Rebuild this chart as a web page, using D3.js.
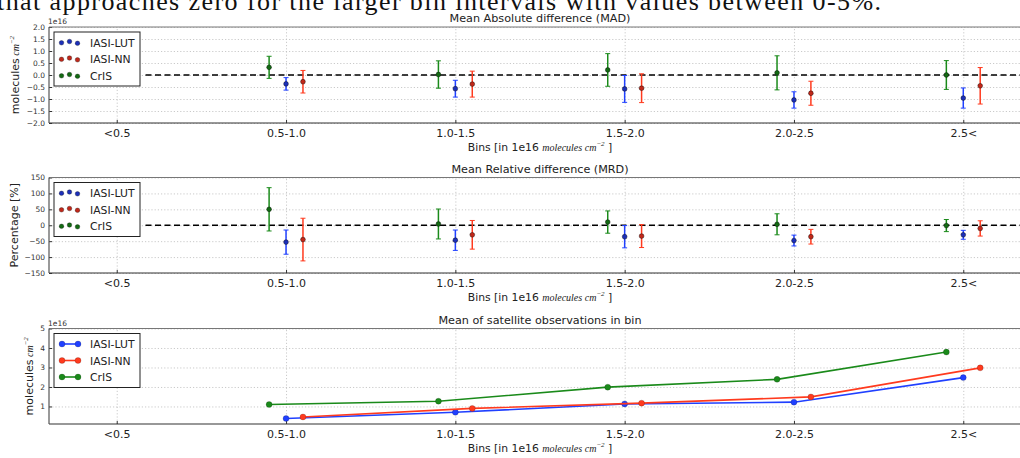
<!DOCTYPE html>
<html>
<head>
<meta charset="utf-8">
<script src="https://cdn.jsdelivr.net/npm/d3@7"></script>
<style>
  body { margin: 0; background: #fff; }
  svg { display: block; }
  text { font-family: 'DejaVu Sans', sans-serif; fill: #222; }
  .grid line { stroke: #bcbcbc; stroke-width: 0.8; stroke-dasharray: 1.2,2; }
  .grid path { display: none; }
  .yaxis path, .xaxis path { display: none; }
  .yaxis line, .xaxis line { stroke: #333; }
  .math { font-family: 'Liberation Serif', serif; font-style: italic; }
</style>
</head>
<body>
<svg id="chart" width="1020" height="458"></svg>
<script>
// bins on the x axis
const bins = ['<0.5', '0.5-1.0', '1.0-1.5', '1.5-2.0', '2.0-2.5', '2.5<']

const seriesNames = ['IASI-LUT', 'IASI-NN', 'CrIS']
const seriesColors = ['#2040ff', '#ff3a1e', '#1a8a1a']
const markerColors = ['#1c2fb8', '#c0281a', '#136913']
const seriesShift = [0, 0.1, -0.1]

// mean absolute difference, 1e16 molecules cm^-2
const madLut = [null, -0.37, -0.57, -0.58, -1.04, -0.96]
const madLutErr = [null, 0.26, 0.35, 0.56, 0.34, 0.42]
const madNn = [null, -0.28, -0.38, -0.55, -0.76, -0.45]
const madNnErr = [null, 0.47, 0.54, 0.6, 0.5, 0.76]
const madCris = [null, 0.32, 0.02, 0.21, 0.09, 0.0]
const madCrisErr = [null, 0.46, 0.57, 0.68, 0.71, 0.6]

// mean relative difference, %
const mrdLut = [null, -53, -47, -36, -48, -30]
const mrdLutErr = [null, 38, 32, 35, 17, 14]
const mrdNn = [null, -45, -30, -34, -36, -10]
const mrdNnErr = [null, 67, 45, 36, 23, 24]
const mrdCris = [null, 50, 4, 10, 3, -1]
const mrdCrisErr = [null, 68, 47, 35, 33, 19]

// mean of satellite observations, 1e16 molecules cm^-2
const obsLut = [null, 0.38, 0.70, 1.13, 1.22, 2.48]
const obsNn = [null, 0.46, 0.90, 1.17, 1.49, 2.98]
const obsCris = [null, 1.10, 1.27, 1.99, 2.39, 3.79]

const madTicks = [-2, -1.5, -1, -0.5, 0, 0.5, 1, 1.5, 2]
const mrdTicks = [-150, -100, -50, 0, 50, 100, 150]
const obsTicks = [1, 2, 3, 4, 5]

const svg = d3.select('#chart')
const x = d3.scaleLinear().domain([-0.4, 5.4]).range([49, 1031])
const minus = s => s.replace('-', '\u2212')

// cut-off line of body text above the figure
svg.append('text')
  .attr('x', -3).attr('y', 9.5)
  .attr('textLength', 884)
  .attr('lengthAdjust', 'spacing')
  .style('font-family', "'Liberation Serif', serif")
  .style('font-size', '26px')
  .style('fill', '#111')
  .text('that approaches zero for the larger bin intervals with values between 0-5%.')

function yLabel (g, cx, cy, plain, parts) {
  const t = g.append('text')
    .attr('transform', `translate(${cx},${cy}) rotate(-90)`)
    .attr('text-anchor', 'middle')
    .style('font-size', '11px')
  t.append('tspan').text(plain)
  if (parts) {
    t.append('tspan').attr('class', 'math').style('font-size', '10px').text(' cm')
    t.append('tspan').attr('class', 'math').style('font-size', '7px').attr('dy', -5).text('\u22122')
  }
}

function drawPanel (p) {
  const g = svg.append('g')
  const y = d3.scaleLinear().domain(p.domain).range([p.bottom, p.top])

  // grid
  g.append('g').attr('class', 'grid')
    .attr('transform', `translate(0,${p.bottom})`)
    .call(d3.axisBottom(x).tickValues(d3.range(bins.length)).tickSize(-(p.bottom - p.top)).tickFormat(''))
  g.append('g').attr('class', 'grid')
    .attr('transform', `translate(${x.range()[0]},0)`)
    .call(d3.axisLeft(y).tickValues(p.ticks).tickSize(-(x.range()[1] - x.range()[0])).tickFormat(''))

  // axes
  g.append('g').attr('class', 'yaxis')
    .attr('transform', `translate(${x.range()[0]},0)`)
    .call(d3.axisLeft(y).tickValues(p.ticks).tickSize(-3).tickPadding(4).tickFormat(p.fmt))
    .selectAll('text').style('font-size', '7.5px').style('fill', '#333')
  g.append('g').attr('class', 'xaxis')
    .attr('transform', `translate(0,${p.bottom})`)
    .call(d3.axisBottom(x).tickValues(d3.range(bins.length)).tickSize(-3).tickPadding(6).tickFormat(i => bins[i]))
    .selectAll('text').style('font-size', '11px').style('fill', '#222')

  // frame
  g.append('line').attr('x1', x.range()[0]).attr('x2', 1020).attr('y1', p.top).attr('y2', p.top)
    .attr('stroke', '#777').attr('stroke-width', 1)
  g.append('line').attr('x1', x.range()[0]).attr('x2', 1020).attr('y1', p.bottom).attr('y2', p.bottom)
    .attr('stroke', '#333').attr('stroke-width', 1.2)
  g.append('line').attr('x1', x.range()[0]).attr('x2', x.range()[0]).attr('y1', p.top).attr('y2', p.bottom)
    .attr('stroke', '#555').attr('stroke-width', 1.2)

  // titles and labels
  g.append('text').attr('x', x(2.5)).attr('y', p.top - 5)
    .attr('text-anchor', 'middle').style('font-size', '11.2px').text(p.title)
  const xl = g.append('text').attr('x', x(2.5)).attr('y', p.bottom + 28)
    .attr('text-anchor', 'middle').style('font-size', '10.8px')
  xl.append('tspan').text('Bins [in 1e16 ')
  xl.append('tspan').attr('class', 'math').style('font-size', '10px').text('molecules cm')
  xl.append('tspan').attr('class', 'math').style('font-size', '7px').attr('dy', -5).text('\u22122')
  xl.append('tspan').attr('dy', 5).text(' ]')
  yLabel(g, p.ylabelX, (p.top + p.bottom) / 2, p.ylabel, p.units)
  if (p.offset) {
    g.append('text').attr('x', 48).attr('y', p.top - 3)
      .style('font-size', '7.5px').style('fill', '#333').text('1e16')
  }

  const plot = g.append('g')
  if (p.zero) {
    plot.append('line')
      .attr('x1', x(0.17)).attr('x2', 1020)
      .attr('y1', y(0)).attr('y2', y(0))
      .attr('stroke', '#000').attr('stroke-width', 1.6).attr('stroke-dasharray', '6,3.5')
  }

  p.series.forEach((s, k) => {
    const pts = s.values.map((v, i) => ({ i: i + seriesShift[k], v, e: s.err ? s.err[i] : 0 }))
      .filter(d => d.v !== null)
    const sg = plot.append('g')
    if (p.lines) {
      sg.append('path').datum(pts)
        .attr('fill', 'none').attr('stroke', seriesColors[k]).attr('stroke-width', 1.6)
        .attr('d', d3.line().x(d => x(d.i)).y(d => y(d.v)))
      sg.selectAll('circle').data(pts).join('circle')
        .attr('cx', d => x(d.i)).attr('cy', d => y(d.v)).attr('r', 3)
        .attr('fill', seriesColors[k]).attr('stroke', 'rgba(0,0,0,0.35)').attr('stroke-width', 0.5)
    } else {
      sg.selectAll('line.bar').data(pts).join('line').attr('class', 'bar')
        .attr('x1', d => x(d.i)).attr('x2', d => x(d.i))
        .attr('y1', d => y(d.v - d.e)).attr('y2', d => y(d.v + d.e))
        .attr('stroke', seriesColors[k]).attr('stroke-width', 1.5)
      ;[-1, 1].forEach(sign => {
        sg.selectAll(`line.cap${sign}`).data(pts).join('line').attr('class', `cap${sign}`)
          .attr('x1', d => x(d.i) - 2.5).attr('x2', d => x(d.i) + 2.5)
          .attr('y1', d => y(d.v + sign * d.e)).attr('y2', d => y(d.v + sign * d.e))
          .attr('stroke', seriesColors[k]).attr('stroke-width', 1)
      })
      sg.selectAll('circle').data(pts).join('circle')
        .attr('cx', d => x(d.i)).attr('cy', d => y(d.v)).attr('r', 2.4)
        .attr('fill', markerColors[k]).attr('stroke', '#000').attr('stroke-width', 0.4)
    }
  })

  // legend
  const lg = g.append('g').attr('transform', `translate(54,${p.top + 5})`)
  lg.append('rect').attr('width', 86).attr('height', 54)
    .attr('fill', '#fff').attr('stroke', '#222').attr('stroke-width', 1)
  seriesNames.forEach((name, k) => {
    const ry = 10.5 + k * 16.5
    if (p.lines) {
      lg.append('line').attr('x1', 8).attr('x2', 24).attr('y1', ry).attr('y2', ry)
        .attr('stroke', seriesColors[k]).attr('stroke-width', 1.6)
      ;[8, 24].forEach(cx => lg.append('circle').attr('cx', cx).attr('cy', ry).attr('r', 3)
        .attr('fill', seriesColors[k]).attr('stroke', 'rgba(0,0,0,0.35)').attr('stroke-width', 0.5))
    } else {
      ;[[7.5, 0.3], [15.5, -1], [23.5, 0.8]].forEach(([cx, dy]) => lg.append('circle')
        .attr('cx', cx).attr('cy', ry + dy).attr('r', 2.3)
        .attr('fill', markerColors[k]).attr('stroke', '#000').attr('stroke-width', 0.3))
    }
    lg.append('text').attr('x', 36).attr('y', ry + 4).style('font-size', '10.8px').text(name)
  })
}

drawPanel({
  top: 27, bottom: 123, domain: [-2, 2], ticks: madTicks,
  fmt: d => minus(d3.format('.1f')(d)),
  title: 'Mean Absolute difference (MAD)', ylabel: 'molecules', units: true, ylabelX: 19,
  offset: true, zero: true, lines: false,
  series: [
    { values: madLut, err: madLutErr },
    { values: madNn, err: madNnErr },
    { values: madCris, err: madCrisErr }
  ]
})

drawPanel({
  top: 177.5, bottom: 273, domain: [-150, 150], ticks: mrdTicks,
  fmt: d => minus(String(d)),
  title: 'Mean Relative difference (MRD)', ylabel: 'Percentage [%]', units: false, ylabelX: 18,
  offset: false, zero: true, lines: false,
  series: [
    { values: mrdLut, err: mrdLutErr },
    { values: mrdNn, err: mrdNnErr },
    { values: mrdCris, err: mrdCrisErr }
  ]
})

drawPanel({
  top: 328.5, bottom: 424, domain: [0.1, 5], ticks: obsTicks,
  fmt: d => String(d),
  title: 'Mean of satellite observations in bin', ylabel: 'molecules', units: true, ylabelX: 33,
  offset: true, zero: false, lines: true,
  series: [
    { values: obsLut },
    { values: obsNn },
    { values: obsCris }
  ]
})
</script>
</body>
</html>
